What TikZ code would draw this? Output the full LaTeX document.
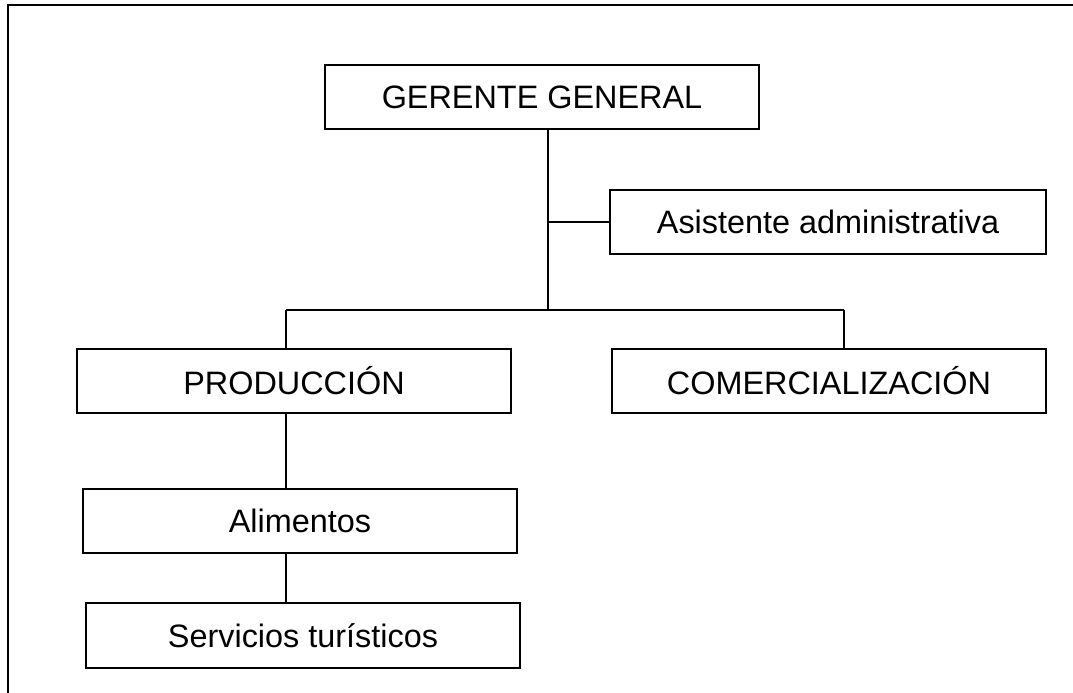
\documentclass[tikz,border=0pt]{standalone}
\usepackage{fontspec}
\setmainfont{Liberation Sans}
\begin{document}
\begin{tikzpicture}[x=1pt,y=-1pt,
  orgbox/.style={draw,line width=2pt,rectangle,inner sep=0pt,minimum width=434pt,minimum height=64pt,font=\fontsize{32.4}{38}\selectfont},
  link/.style={line width=1.7pt}]
\useasboundingbox (0,0) rectangle (1073,693);
\draw[line width=2pt] (8,693) -- (8,5) -- (1073,5);
\node[orgbox] (gg) at (542,97) {GERENTE GENERAL};
\node[orgbox,minimum width=436pt] (as) at (828,222) {Asistente administrativa};
\node[orgbox] (pr) at (294,381) {PRODUCCIÓN};
\node[orgbox] (co) at (829,381) {COMERCIALIZACIÓN};
\node[orgbox] (al) at (300,521) {Alimentos};
\node[orgbox,minimum height=65pt] (se) at (303,635.5) {Servicios turísticos};
\coordinate (j) at (548,310);
\coordinate (bl) at (286,310);
\coordinate (br) at (844,310);
\draw[link] (gg.south -| j) -- (j);
\draw[link] (as.west) -- (as.west -| j);
\draw[link] (bl) -- (br);
\draw[link] (bl) -- (bl |- pr.north);
\draw[link] (br) -- (br |- co.north);
\draw[link] (pr.south -| bl) -- (al.north -| bl);
\draw[link] (al.south -| bl) -- (se.north -| bl);
\end{tikzpicture}
\end{document}
